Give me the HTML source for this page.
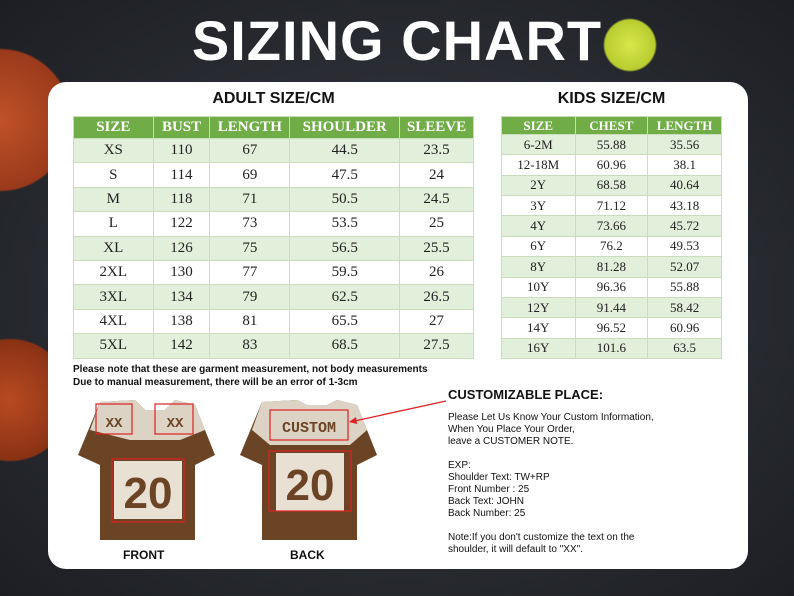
<!DOCTYPE html>
<html><head><meta charset="utf-8"><style>
*{margin:0;padding:0;box-sizing:border-box}
body{width:794px;height:596px;overflow:hidden;position:relative;font-family:"Liberation Sans",sans-serif;
background:radial-gradient(circle at 0px 120px,#c0522a 0,#9a3a1a 70px,transparent 72px),
radial-gradient(circle at 10px 400px,#b84a22 0,#8a3214 60px,transparent 62px),
radial-gradient(circle at 630px 45px,#d6e84a 0,#b8cc30 25px,transparent 27px),
radial-gradient(ellipse at 400px 300px,#3a3d44,#1c1e23);}
.t{position:absolute;white-space:nowrap}
.panel{position:absolute;left:48px;top:82px;width:700px;height:487px;background:#fff;border-radius:18px}
table{position:absolute;border-collapse:collapse;font-family:"Liberation Serif",serif;text-align:center;color:#222}
td,th{border:1px solid #c9dcbc;padding:0}
th{background:#70ad47;color:#fff;font-weight:bold}
tr:nth-child(even) td{background:#e2efda}
tr:nth-child(odd) td{background:#fff}
</style></head><body>
<div class="t" style="left:0;width:794px;top:8px;text-align:center;font-size:56px;font-weight:bold;color:#fff;letter-spacing:1px">SIZING CHART</div>
<div class="panel"></div>
<div class="t" style="left:73px;width:401px;top:90px;text-align:center;font-size:16px;font-weight:bold;color:#111">ADULT SIZE/CM</div>
<div class="t" style="left:501px;width:221px;top:90px;text-align:center;font-size:16px;font-weight:bold;color:#111">KIDS SIZE/CM</div>
<table style="left:73px;top:116px;width:401px;font-size:15px">
<colgroup><col style="width:80px"><col style="width:57px"><col style="width:80px"><col style="width:110px"><col style="width:74px"></colgroup>
<tr style="height:22px"><th>SIZE</th><th>BUST</th><th>LENGTH</th><th>SHOULDER</th><th>SLEEVE</th></tr>
<tr style="height:24.4px"><td>XS</td><td>110</td><td>67</td><td>44.5</td><td>23.5</td></tr>
<tr style="height:24.4px"><td>S</td><td>114</td><td>69</td><td>47.5</td><td>24</td></tr>
<tr style="height:24.4px"><td>M</td><td>118</td><td>71</td><td>50.5</td><td>24.5</td></tr>
<tr style="height:24.4px"><td>L</td><td>122</td><td>73</td><td>53.5</td><td>25</td></tr>
<tr style="height:24.4px"><td>XL</td><td>126</td><td>75</td><td>56.5</td><td>25.5</td></tr>
<tr style="height:24.4px"><td>2XL</td><td>130</td><td>77</td><td>59.5</td><td>26</td></tr>
<tr style="height:24.4px"><td>3XL</td><td>134</td><td>79</td><td>62.5</td><td>26.5</td></tr>
<tr style="height:24.4px"><td>4XL</td><td>138</td><td>81</td><td>65.5</td><td>27</td></tr>
<tr style="height:24.4px"><td>5XL</td><td>142</td><td>83</td><td>68.5</td><td>27.5</td></tr>
</table>
<table style="left:501px;top:116px;width:221px;font-size:13px">
<colgroup><col style="width:74px"><col style="width:73px"><col style="width:74px"></colgroup>
<tr style="height:18px"><th>SIZE</th><th>CHEST</th><th>LENGTH</th></tr>
<tr style="height:20.36px"><td>6-2M</td><td>55.88</td><td>35.56</td></tr>
<tr style="height:20.36px"><td>12-18M</td><td>60.96</td><td>38.1</td></tr>
<tr style="height:20.36px"><td>2Y</td><td>68.58</td><td>40.64</td></tr>
<tr style="height:20.36px"><td>3Y</td><td>71.12</td><td>43.18</td></tr>
<tr style="height:20.36px"><td>4Y</td><td>73.66</td><td>45.72</td></tr>
<tr style="height:20.36px"><td>6Y</td><td>76.2</td><td>49.53</td></tr>
<tr style="height:20.36px"><td>8Y</td><td>81.28</td><td>52.07</td></tr>
<tr style="height:20.36px"><td>10Y</td><td>96.36</td><td>55.88</td></tr>
<tr style="height:20.36px"><td>12Y</td><td>91.44</td><td>58.42</td></tr>
<tr style="height:20.36px"><td>14Y</td><td>96.52</td><td>60.96</td></tr>
<tr style="height:20.36px"><td>16Y</td><td>101.6</td><td>63.5</td></tr>
</table>
<div class="t" style="left:73px;top:363px;font-size:10px;font-weight:bold;color:#111;line-height:13px">Please note that these are garment measurement, not body measurements<br>Due to manual measurement, there will be an error of 1-3cm</div>
<svg style="position:absolute;left:0;top:0" width="794" height="596">
<g id="j">
<path d="M100 402 L135 400 L145 410 L165 410 L175 400 L195 405 L215 455 L195 465 L195 540 L100 540 L100 465 L78 455 Z" fill="#6b4325"/>
<path d="M100 402 L135 400 L145 410 L165 410 L175 400 L195 405 L205 430 L180 440 L130 440 L90 430 Z" fill="#dcd3c5"/>
<rect x="113" y="460" width="70" height="60" fill="#e8e0d2" stroke="#6b4325" stroke-width="2"/>
<text x="148" y="508" text-anchor="middle" font-family="Liberation Sans" font-size="44" font-weight="bold" fill="#6b4325">20</text>
<rect x="112" y="459" width="72" height="63" fill="none" stroke="#d22" stroke-width="1.2"/>
<rect x="96" y="404" width="36" height="30" fill="none" stroke="#d22" stroke-width="1.2"/>
<rect x="155" y="404" width="38" height="30" fill="none" stroke="#d22" stroke-width="1.2"/>
<text x="114" y="427" text-anchor="middle" font-family="Liberation Mono" font-size="14" font-weight="bold" fill="#6b4325">XX</text>
<text x="175" y="427" text-anchor="middle" font-family="Liberation Mono" font-size="14" font-weight="bold" fill="#6b4325">XX</text>
</g>
<path d="M262 402 L297 400 L307 405 L327 405 L337 400 L357 405 L377 455 L357 465 L357 540 L262 540 L262 465 L240 455 Z" fill="#6b4325"/>
<path d="M262 402 L297 400 L307 405 L327 405 L337 400 L357 405 L367 430 L350 445 L270 445 L252 430 Z" fill="#dcd3c5"/>
<rect x="270" y="410" width="78" height="30" fill="none" stroke="#d22" stroke-width="1.2"/>
<text x="309" y="432" text-anchor="middle" font-family="Liberation Mono" font-size="15" font-weight="bold" fill="#6b4325">CUSTOM</text>
<rect x="275" y="452" width="70" height="60" fill="#e8e0d2" stroke="#6b4325" stroke-width="2"/>
<text x="310" y="500" text-anchor="middle" font-family="Liberation Sans" font-size="44" font-weight="bold" fill="#6b4325">20</text>
<rect x="269" y="451" width="82" height="60" fill="none" stroke="#d22" stroke-width="1.2"/>
<line x1="350" y1="422" x2="446" y2="401" stroke="#d22" stroke-width="1.3"/>
<path d="M349 422 L356 417 L357 424 Z" fill="#d22"/>
</svg>
<div class="t" style="left:123px;top:548px;font-size:12px;font-weight:bold;color:#111">FRONT</div>
<div class="t" style="left:290px;top:548px;font-size:12px;font-weight:bold;color:#111">BACK</div>
<div class="t" style="left:448px;top:387px;font-size:13px;font-weight:bold;color:#111">CUSTOMIZABLE PLACE:</div>
<div class="t" style="left:448px;top:412px;font-size:10px;color:#111;line-height:12px">Please Let Us Know Your Custom Information,<br>When You Place Your Order,<br>leave a CUSTOMER NOTE.<br><br>EXP:<br>Shoulder Text: TW+RP<br>Front Number : 25<br>Back Text: JOHN<br>Back Number: 25<br><br>Note:If you don't customize the text on the<br>shoulder, it will default to "XX".</div>
</body></html>
